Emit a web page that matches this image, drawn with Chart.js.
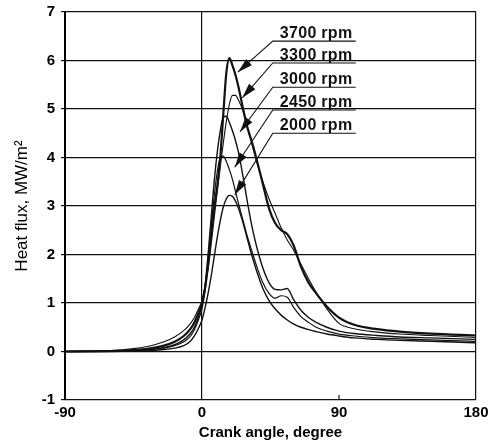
<!DOCTYPE html>
<html>
<head>
<meta charset="utf-8">
<script src="https://cdn.jsdelivr.net/npm/chart.js@4.4.0/dist/chart.umd.min.js"></script>
<style>
  html, body { margin: 0; padding: 0; background: #fff; }
  #wrap { width: 494px; height: 446px; }
</style>
</head>
<body>
<div id="wrap"><canvas id="heatFluxChart" width="494" height="446"></canvas></div>
<script>
// --- Data ---
const crankAngles = [-90, -60, -45, -35, -25, -18, -12, -8, -5, -2, 0, 2, 4, 6, 8, 10, 12, 14, 16, 18, 20, 22, 24, 27, 30, 33, 36, 40, 44, 48, 52, 56, 60, 65, 70, 75, 82, 90, 100, 115, 130, 150, 180];

const flux3700 = [0, 0.01, 0.03, 0.06, 0.12, 0.2, 0.32, 0.45, 0.6, 0.82, 1.0, 1.3, 1.8, 2.4, 2.95, 3.4, 4.0, 4.9, 5.75, 6.05, 5.9, 5.7, 5.45, 5.0, 4.6, 4.3, 3.95, 3.45, 2.95, 2.65, 2.5, 2.42, 2.2, 1.75, 1.42, 1.2, 0.93, 0.7, 0.55, 0.46, 0.41, 0.37, 0.33];
const flux3300 = [0, 0.02, 0.06, 0.11, 0.2, 0.3, 0.43, 0.56, 0.7, 0.9, 1.05, 1.35, 1.7, 2.2, 2.75, 3.3, 3.8, 4.3, 4.75, 5.1, 5.28, 5.28, 5.18, 4.95, 4.6, 4.25, 3.9, 3.5, 3.15, 2.85, 2.55, 2.3, 2.1, 1.8, 1.5, 1.22, 0.88, 0.58, 0.47, 0.4, 0.36, 0.33, 0.29];
const flux3000 = [0, 0.01, 0.02, 0.04, 0.08, 0.14, 0.24, 0.36, 0.5, 0.75, 0.95, 1.35, 2.0, 2.75, 3.5, 4.1, 4.55, 4.83, 4.85, 4.72, 4.55, 4.35, 4.1, 3.6, 3.05, 2.55, 2.15, 1.72, 1.42, 1.28, 1.27, 1.3, 1.08, 0.85, 0.7, 0.6, 0.5, 0.42, 0.37, 0.33, 0.3, 0.28, 0.25];
const flux2450 = [0, 0.01, 0.02, 0.04, 0.07, 0.12, 0.2, 0.3, 0.45, 0.68, 0.88, 1.25, 1.85, 2.55, 3.2, 3.7, 4.0, 4.03, 3.92, 3.75, 3.55, 3.3, 3.05, 2.7, 2.35, 2.05, 1.75, 1.42, 1.2, 1.1, 1.15, 1.12, 0.92, 0.72, 0.6, 0.5, 0.42, 0.36, 0.32, 0.28, 0.26, 0.24, 0.21];
const flux2000 = [0, 0, 0.01, 0.02, 0.04, 0.07, 0.12, 0.2, 0.32, 0.5, 0.65, 0.9, 1.2, 1.55, 1.95, 2.35, 2.7, 2.98, 3.15, 3.22, 3.2, 3.1, 2.95, 2.65, 2.3, 1.95, 1.65, 1.3, 1.05, 0.88, 0.75, 0.65, 0.57, 0.5, 0.45, 0.41, 0.36, 0.32, 0.28, 0.25, 0.23, 0.21, 0.18];

const rpmLabels = ['3700 rpm', '3300 rpm', '3000 rpm', '2450 rpm', '2000 rpm'];
const xTicks = [-90, 0, 90, 180];
const yTicks = [-1, 0, 1, 2, 3, 4, 5, 6, 7];

// --- Callout placement (data units) ---
const calloutLeft = 46.5;
const calloutRight = 101;
const calloutLineY = [6.40, 5.95, 5.45, 4.98, 4.50];
const arrowTipX = [23.5, 26.5, 25, 21.5, 21.5];
const arrowTipY = [5.76, 5.23, 4.53, 3.80, 3.23];

const FONT = '"Liberation Sans", Arial, sans-serif';

const toPoints = vals => crankAngles.map((a, i) => ({ x: a, y: vals[i] }));

function makeSeries(label, vals, width) {
    return {
        label: label,
        data: toPoints(vals),
        borderColor: '#111',
        borderWidth: width,
        pointRadius: 0,
        fill: false,
        cubicInterpolationMode: 'monotone'
    };
}

const calloutPlugin = {
    id: 'callouts',
    afterDatasetsDraw(chart) {
        const { ctx, scales: { x, y } } = chart;
        ctx.save();
        ctx.strokeStyle = '#111';
        ctx.fillStyle = '#111';
        ctx.lineWidth = 1.1;
        rpmLabels.forEach((txt, i) => {
            const x0 = x.getPixelForValue(calloutLeft);
            const x1 = x.getPixelForValue(calloutRight);
            const yl = y.getPixelForValue(calloutLineY[i]);
            const tx = x.getPixelForValue(arrowTipX[i]);
            const ty = y.getPixelForValue(arrowTipY[i]);

            ctx.beginPath();
            ctx.moveTo(x1, yl);
            ctx.lineTo(x0, yl);
            ctx.lineTo(tx, ty);
            ctx.stroke();

            // arrow head
            const ang = Math.atan2(ty - yl, tx - x0);
            const len = 15, half = 4.2;
            const bx = tx - len * Math.cos(ang), by = ty - len * Math.sin(ang);
            ctx.beginPath();
            ctx.moveTo(tx, ty);
            ctx.lineTo(bx + half * Math.sin(ang), by - half * Math.cos(ang));
            ctx.lineTo(bx - half * Math.sin(ang), by + half * Math.cos(ang));
            ctx.closePath();
            ctx.fill();

            ctx.font = 'bold 16px ' + FONT;
            ctx.letterSpacing = '0.3px';
            ctx.textBaseline = 'alphabetic';
            ctx.textAlign = 'left';
            ctx.fillText(txt, x0 + 7, yl - 3);
        });

        // small inward tick at 90 on the bottom axis
        const px = x.getPixelForValue(90);
        ctx.letterSpacing = '0px';
        ctx.lineWidth = 1.2;
        ctx.beginPath();
        ctx.moveTo(px, chart.chartArea.bottom);
        ctx.lineTo(px, chart.chartArea.bottom - 5);
        ctx.stroke();
        ctx.restore();
    }
};

document.addEventListener('DOMContentLoaded', function () {
    const ctx = document.getElementById('heatFluxChart').getContext('2d');
    new Chart(ctx, {
        type: 'line',
        data: {
            datasets: [
                makeSeries('3700 rpm', flux3700, 2.2),
                makeSeries('3300 rpm', flux3300, 1.1),
                makeSeries('3000 rpm', flux3000, 1.4),
                makeSeries('2450 rpm', flux2450, 1.2),
                makeSeries('2000 rpm', flux2000, 1.4)
            ]
        },
        options: {
            responsive: false,
            animation: false,
            layout: { padding: { top: 12, right: 18, left: 0, bottom: 0 } },
            plugins: {
                legend: { display: false },
                tooltip: { enabled: false }
            },
            scales: {
                x: {
                    type: 'linear',
                    min: -90,
                    max: 180,
                    afterBuildTicks: s => { s.ticks = xTicks.map(v => ({ value: v })); },
                    afterFit: s => { s.height = 46; s.paddingLeft = 0; s.paddingRight = 0; },
                    grid: {
                        color: c => (c.tick && c.tick.value === 90) ? 'rgba(0,0,0,0)' : '#111',
                        lineWidth: 1.2,
                        drawTicks: false
                    },
                    border: { display: false },
                    ticks: {
                        padding: 4,
                        color: '#000',
                        font: { family: FONT, size: 15, weight: 'bold' },
                        callback: v => String(v)
                    },
                    title: {
                        display: true,
                        text: 'Crank angle, degree',
                        color: '#000',
                        font: { family: FONT, size: 15, weight: 'bold' },
                        padding: { top: 0, bottom: 4 }
                    }
                },
                y: {
                    min: -1,
                    max: 7,
                    afterBuildTicks: s => { s.ticks = yTicks.map(v => ({ value: v })); },
                    afterFit: s => { s.width = 65; s.paddingTop = 0; s.paddingBottom = 0; },
                    grid: {
                        color: '#111',
                        lineWidth: 1.2,
                        tickLength: 4
                    },
                    border: { display: true, color: '#000', width: 2 },
                    ticks: {
                        padding: 6,
                        color: '#000',
                        font: { family: FONT, size: 15, weight: 'bold' }
                    },
                    title: {
                        display: true,
                        text: 'Heat flux, MW/m²',
                        color: '#000',
                        font: { family: FONT, size: 17 },
                        padding: { top: 12, bottom: 0 }
                    }
                }
            }
        },
        plugins: [calloutPlugin]
    });
});
</script>
</body>
</html>
